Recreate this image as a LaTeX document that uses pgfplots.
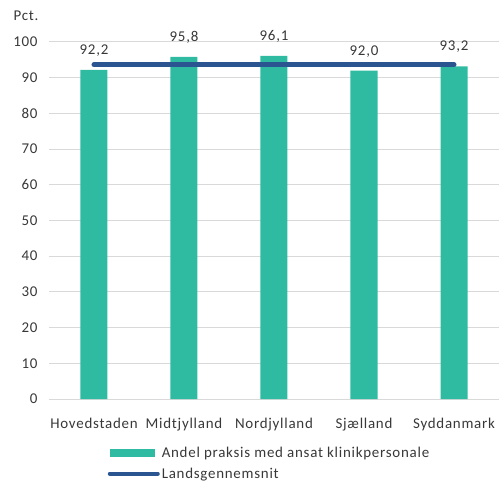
\documentclass[border=0pt]{standalone}
\usepackage{fontspec}
\setmainfont{Carlito}[LetterSpace=5]
\usepackage{pgfplots}
\pgfplotsset{compat=1.18}
\definecolor{barteal}{HTML}{2FBBA1}
\definecolor{avgblue}{HTML}{2B5591}
\definecolor{gridgray}{HTML}{D9D9D9}
\definecolor{txt}{HTML}{383838}
\newcommand\lab{\fontsize{15}{17}\selectfont}
\begin{document}
\begin{tikzpicture}
\begin{axis}[
  name=ax,
  scale only axis,
  width=450bp, height=357bp,
  xmin=-0.5, xmax=4.5,
  ymin=0, ymax=100,
  ytick={0,10,...,100},
  xtick={0,1,2,3,4},
  xticklabels={Hovedstaden,Midtjylland,Nordjylland,Sjælland,Syddanmark},
  axis line style={draw=none},
  major tick length=0pt,
  ymajorgrids, grid style={gridgray, line width=1bp},
  tick label style={font=\lab, color=txt},
  /pgf/number format/assume math mode=true,
  yticklabel style={xshift=-8bp},
  xticklabel style={yshift=-16bp},
  legend style={at={(0.49,-0.128)}, anchor=north, draw=none,
    font=\lab, text=txt, row sep=5bp, inner sep=0pt},
  legend cell align=left,
  clip=false,
]
\addplot[ybar, bar width=27bp, fill=barteal, draw=none,
  nodes near coords,
  nodes near coords style={font=\lab, color=txt, anchor=south, yshift=10bp,
    /pgf/number format/.cd, fixed, fixed zerofill, precision=1, use comma},
  area legend,
  legend image code/.code={\fill[barteal] (0bp,-4bp) rectangle (45bp,4bp);}]
  coordinates {(0,92.2) (1,95.8) (2,96.1) (3,92.0) (4,93.2)};
\addlegendentry{Andel praksis med ansat klinikpersonale}
\addplot[avgblue, line width=5bp, line cap=round,
  legend image code/.code={\draw[avgblue, line width=4bp, line cap=round] (0bp,0bp) -- (48bp,0bp);}]
  coordinates {(0,93.6) (4,93.6)};
\addlegendentry{Landsgennemsnit}
\node[font=\lab, color=txt] at ([xshift=-23bp, yshift=26bp]rel axis cs:0,1) {Pct.};
\end{axis}
\pgfresetboundingbox
\path ([xshift=-49bp,yshift=-85bp]ax.south west) rectangle ([yshift=42bp]ax.north east);
\end{tikzpicture}
\end{document}
